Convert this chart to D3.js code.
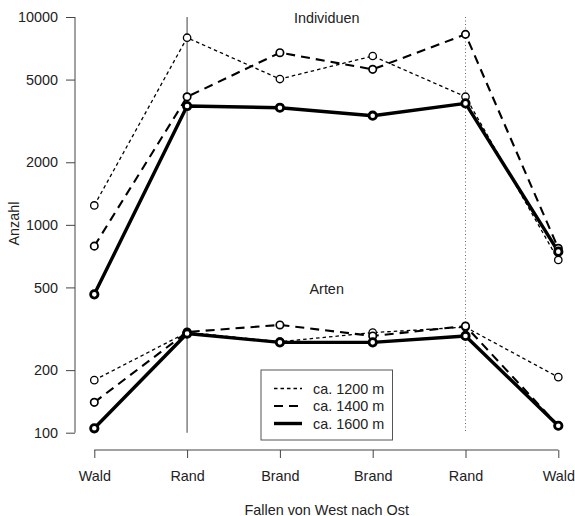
<!DOCTYPE html>
<html>
<head>
<meta charset="utf-8">
<script src="https://cdn.jsdelivr.net/npm/d3@7"></script>
<style>
  html, body { margin: 0; padding: 0; background: #fff; }
  text { font-family: "Liberation Sans", Arial, sans-serif; fill: #222; }
</style>
</head>
<body>
<svg id="chart" width="575" height="516"></svg>
<script>
// ---- data ----
const categories = ["Wald", "Rand", "Brand", "Brand", "Rand", "Wald"];
const yTicks = [100, 200, 500, 1000, 2000, 5000, 10000];
const seriesNames = ["ca. 1200 m", "ca. 1400 m", "ca. 1600 m"];
const individuen1200 = [1240, 7950, 5030, 6490, 4135, 678];
const individuen1400 = [790, 4130, 6735, 5600, 8250, 771];
const individuen1600 = [463, 3730, 3660, 3350, 3840, 743];
const arten1200 = [179, 304, 274, 303, 322, 185];
const arten1400 = [140, 305, 330, 292, 326, 108];
const arten1600 = [105, 300, 272, 272, 292, 108];
const title1 = "Individuen";
const title2 = "Arten";
const xTitle = "Fallen von West nach Ost";
const yTitle = "Anzahl";

// ---- styles ----
const FS = 14.4;
const styles = [
  { width: 1.3, dash: "3.5,3", r: 3.7, cw: 1.3 },
  { width: 2.1, dash: "9,6", r: 3.7, cw: 1.7 },
  { width: 3.4, dash: null, r: 3.7, cw: 2.8 }
];

const svg = d3.select("#chart");
const x = d3.scalePoint().domain(d3.range(categories.length)).range([94.3, 558.3]);
const y = d3.scaleLog().domain([100, 10000]).range([432.7, 17]);

// reference vertical lines at the two "Rand" positions
svg.append("line").attr("x1", x(1)).attr("x2", x(1)).attr("y1", y(10000)).attr("y2", y(100))
  .attr("stroke", "#777").attr("stroke-width", 1.4);
svg.append("line").attr("x1", x(4)).attr("x2", x(4)).attr("y1", y(10000)).attr("y2", y(100))
  .attr("stroke", "#666").attr("stroke-width", 1).attr("stroke-dasharray", "1,2.5");

// y axis
const yAxis = d3.axisLeft(y).tickValues(yTicks).tickFormat(d3.format("d")).tickSize(9).tickPadding(8);
const gy = svg.append("g").attr("transform", "translate(75,0)").call(yAxis);
gy.select(".domain").attr("stroke", "#444").attr("d", `M0,${y(100)}V${y(10000)}`);
gy.selectAll(".tick line").attr("stroke", "#444");
gy.selectAll(".tick text").attr("font-size", FS).attr("fill", "#222")
  .attr("font-family", "Liberation Sans, Arial, sans-serif");

// x axis
const xAxis = d3.axisBottom(x).tickFormat(i => categories[i]).tickSize(8).tickPadding(13);
const gx = svg.append("g").attr("transform", "translate(0,450)").call(xAxis);
gx.select(".domain").attr("stroke", "#444").attr("d", `M${x(0)},0H${x(5)}`);
gx.selectAll(".tick line").attr("stroke", "#444");
gx.selectAll(".tick text").attr("font-size", FS).attr("fill", "#222")
  .attr("font-family", "Liberation Sans, Arial, sans-serif");

// titles
svg.append("text").attr("x", 326.7).attr("y", 23).attr("text-anchor", "middle").attr("font-size", FS).text(title1);
svg.append("text").attr("x", 326.7).attr("y", 293.5).attr("text-anchor", "middle").attr("font-size", FS).text(title2);
svg.append("text").attr("x", 326.7).attr("y", 514.5).attr("text-anchor", "middle").attr("font-size", FS).text(xTitle);
svg.append("text").attr("transform", "translate(19,223.5) rotate(-90)").attr("text-anchor", "middle").attr("font-size", FS).text(yTitle);

// series
const groups = [
  [individuen1200, individuen1400, individuen1600],
  [arten1200, arten1400, arten1600]
];
const line = d3.line().x((d, i) => x(i)).y(d => y(d));

groups.forEach(g => {
  g.forEach((vals, s) => {
    const st = styles[s];
    svg.append("path").datum(vals).attr("d", line).attr("fill", "none")
      .attr("stroke", "#000").attr("stroke-width", st.width)
      .attr("stroke-dasharray", st.dash).attr("stroke-linejoin", "round");
  });
});
groups.forEach(g => {
  g.forEach((vals, s) => {
    const st = styles[s];
    svg.append("g").selectAll("circle").data(vals).join("circle")
      .attr("cx", (d, i) => x(i)).attr("cy", d => y(d)).attr("r", st.r)
      .attr("fill", "#fff").attr("stroke", "#000").attr("stroke-width", st.cw);
  });
});

// legend
const lg = svg.append("g");
lg.append("rect").attr("x", 261).attr("y", 370).attr("width", 131.5).attr("height", 70)
  .attr("fill", "#fff").attr("stroke", "#555").attr("stroke-width", 1);
seriesNames.forEach((name, s) => {
  const st = styles[s];
  const ly = 388.5 + s * 17.5;
  lg.append("line").attr("x1", 274).attr("x2", 302).attr("y1", ly).attr("y2", ly)
    .attr("stroke", "#000").attr("stroke-width", st.width).attr("stroke-dasharray", st.dash);
  lg.append("text").attr("x", 313).attr("y", ly + 5).attr("font-size", FS).text(name);
});
</script>
</body>
</html>
